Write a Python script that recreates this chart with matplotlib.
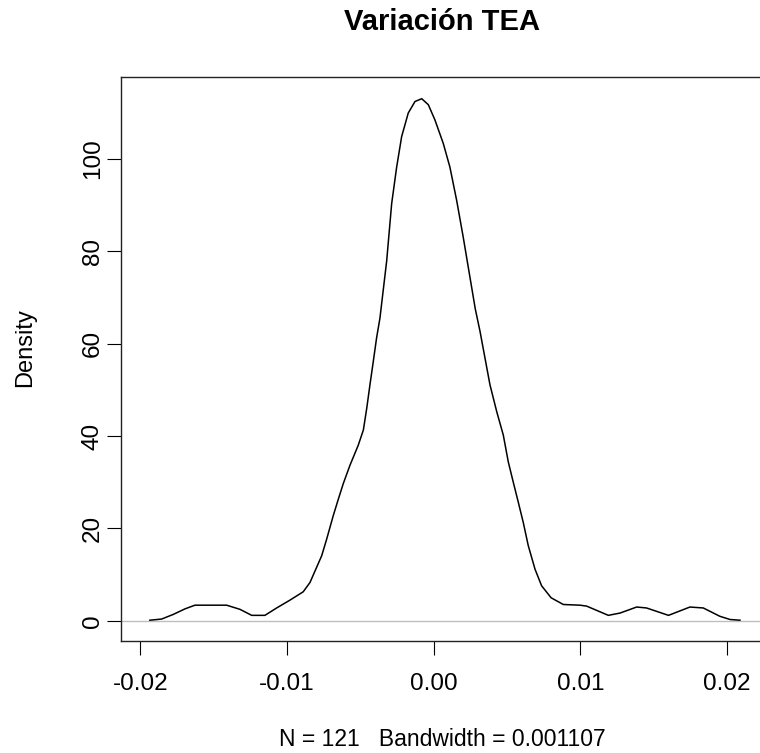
import matplotlib.pyplot as plt

plt.rcParams['font.family'] = ['Liberation Sans', 'DejaVu Sans']

# density curve
x_vals = [-0.01935, -0.01855, -0.01776, -0.01696, -0.01628, -0.01526, -0.01412,
          -0.01321, -0.01241, -0.01151, -0.01071, -0.00980, -0.00890, -0.00844,
          -0.00764, -0.00730, -0.00685, -0.00650, -0.00617, -0.00571, -0.00515,
          -0.00480, -0.00457, -0.00435, -0.00412, -0.00390, -0.00367, -0.00321,
          -0.00287, -0.00253, -0.00219, -0.00174, -0.00128, -0.00082, -0.00037,
          0.00008, 0.00065, 0.00110, 0.00156, 0.00201, 0.00247, 0.00283,
          0.00315, 0.00349, 0.00383, 0.00429, 0.00474, 0.00508, 0.00542,
          0.00576, 0.00610, 0.00644, 0.00690, 0.00735, 0.00800, 0.00883,
          0.00997, 0.01042, 0.01190, 0.01270, 0.01383, 0.01450, 0.01600,
          0.01746, 0.01837, 0.01950, 0.02020, 0.02087]
dens = [0.15, 0.4, 1.4, 2.6, 3.4, 3.4, 3.4,
        2.5, 1.2, 1.2, 2.8, 4.5, 6.3, 8.3,
        14.1, 17.7, 22.8, 26.4, 29.7, 33.7, 38.0,
        41.3, 46.0, 51.1, 56.2, 61.2, 65.5, 77.9,
        90.3, 98.2, 104.8, 109.9, 112.4, 113.0, 111.7,
        108.4, 103.3, 98.2, 91.0, 83.0, 74.3, 67.5,
        62.7, 56.9, 51.1, 45.3, 40.2, 34.4, 30.0,
        25.7, 21.3, 16.3, 11.2, 7.6, 5.0, 3.55,
        3.4, 3.2, 1.2, 1.7, 3.0, 2.8, 1.2,
        3.0, 2.8, 1.0, 0.3, 0.15]

x_ticks = [-0.02, -0.01, 0.00, 0.01, 0.02]
x_labels = ['-0.02', '-0.01', '0.00', '0.01', '0.02']
y_ticks = [0, 20, 40, 60, 80, 100]

fig = plt.figure(figsize=(7.6, 7.53), dpi=100)
ax = fig.add_axes([121 / 760, 1 - 641 / 753, 643 / 760, 564 / 753])

ax.axhline(0, color='#bebebe', lw=1.0)
ax.plot(x_vals, dens, color='black', lw=1.1)

ax.set_xlim(-0.02132, 0.02251)
ax.set_ylim(-4.35, 117.7)

ax.set_xticks(x_ticks)
ax.set_xticklabels(x_labels)
ax.set_yticks(y_ticks)
ax.set_yticklabels([str(v) for v in y_ticks], rotation=90, va='center')
ax.tick_params(direction='out', length=10, width=0.8, labelsize=17.5)
ax.tick_params(axis='x', pad=13)
ax.tick_params(axis='y', pad=2.5)

for s in ax.spines.values():
    s.set_linewidth(1.0)
    s.set_color('#222222')

fig.text(442 / 760, 1 - 22 / 753, 'Variación TEA', ha='center', va='center',
         fontsize=21, fontweight='bold')
fig.text(442 / 760, 1 - 740 / 753, 'N = 121   Bandwidth = 0.001107',
         ha='center', va='center', fontsize=16.5)
fig.text(25 / 760, 1 - 348 / 753, 'Density', ha='center', va='center',
         rotation=90, fontsize=17)

fig.savefig('out.png', dpi=100)
